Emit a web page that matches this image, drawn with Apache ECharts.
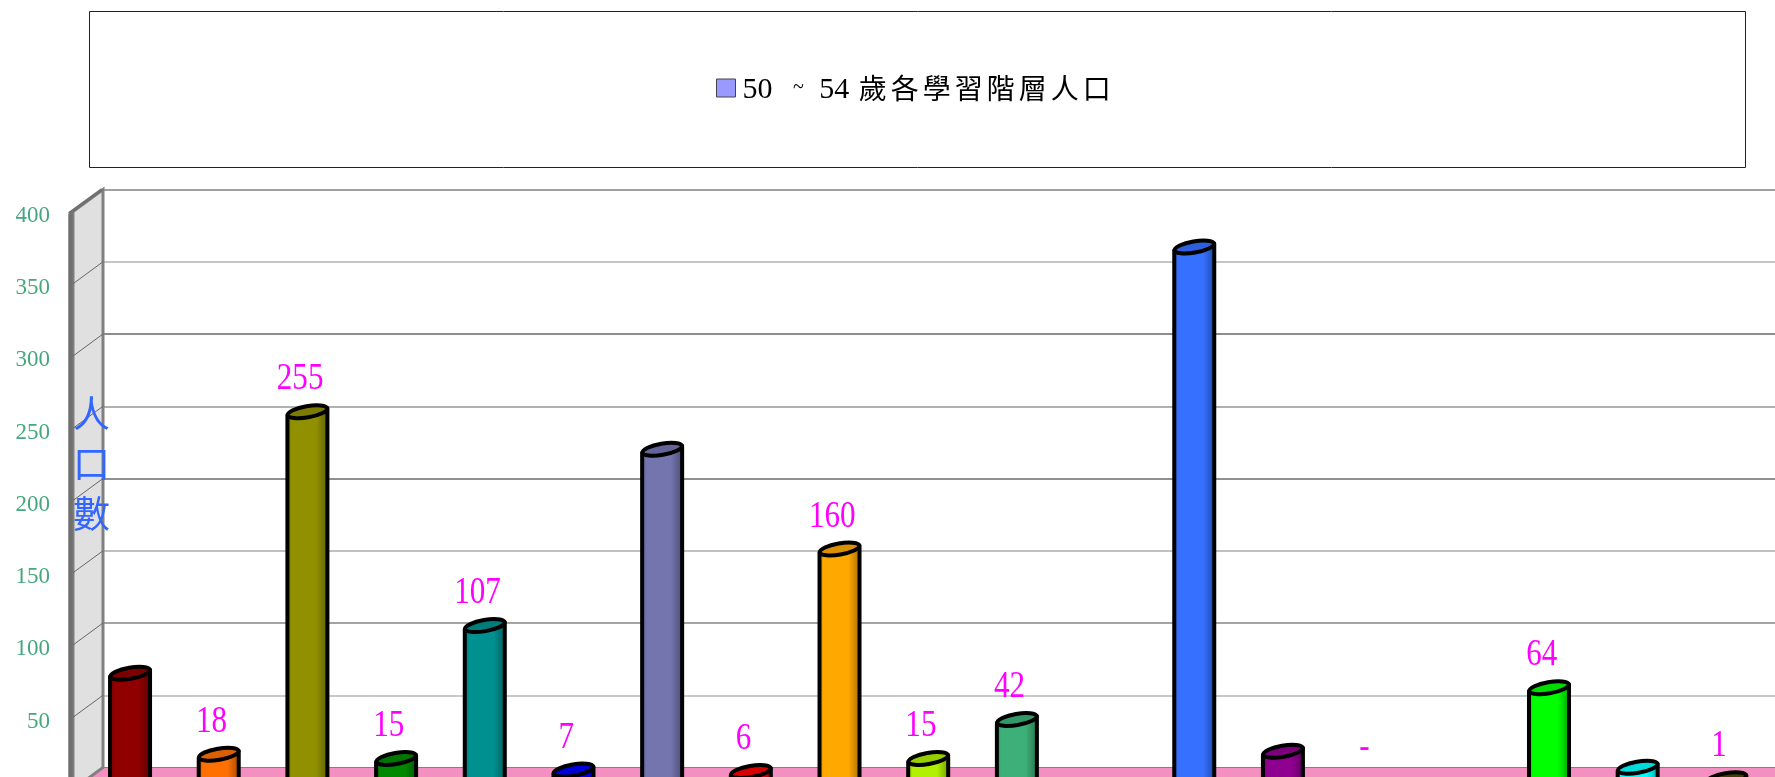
<!DOCTYPE html>
<html>
<head>
<meta charset="utf-8">
<style>html,body{margin:0;padding:0;background:#fff;overflow:hidden}#c{width:1775px;height:777px}</style>
<script src="https://cdn.jsdelivr.net/npm/echarts@6/dist/echarts.min.js"></script>
</head>
<body>
<div id="c"></div>
<script>
const seriesName = '50 ~ 54 歲各學習階層人口';
const axisTitle = '人\n口\n數';
const categories = ['1','2','3','4','5','6','7','8','9','10','11','12','13','14','15','16','17','18','19'];
const values = [74, 18, 255, 15, 107, 7, 229, 6, 160, 15, 42, 0, 369, 20, 0, 0, 64, 9, 1];
const valueLabels = ['', '18', '255', '15', '107', '7', '', '6', '160', '15', '42', '', '', '', '-', '', '64', '', '1'];
const barColors = ['#900000','#ff7000','#909000','#008800','#009090','#0000ff','#7474ae','#ff0000','#ffa800','#b0f000','#3cb078','#808080','#3670ff','#900090','#808080','#808080','#00ff00','#00ffff','#4a4a00'];
const yTicks = [0, 50, 100, 150, 200, 250, 300, 350, 400];
const gridColors = ['#808080','#c8c8c8','#a4a4a4','#c0c0c0','#909090','#b0b0b0','#8c8c8c','#c4c4c4','#a0a0a0'];

const WALL_DX = -30, WALL_DY = 22;
const BAR_DX = -17.3, BAR_DY = 12.7, BAR_RX = 20;
const SERIF = '"Liberation Serif","Noto Sans CJK TC",serif';

function shade(hex, f) {
  const n = parseInt(hex.slice(1), 16);
  const c = [(n >> 16) & 255, (n >> 8) & 255, n & 255].map(v => Math.round(v * f));
  return 'rgb(' + c.join(',') + ')';
}

function renderWall(params, api) {
  const cs = params.coordSys;
  const p = api.coord([0, yTicks[params.dataIndex]]);
  const left = cs.x, bottom = cs.y + cs.height, top = cs.y, right = cs.x + cs.width;
  const kids = [];
  if (params.dataIndex === 0) {
    kids.push({ type: 'polygon', shape: { points: [[left, bottom], [right + 40, bottom], [right + 40, bottom + WALL_DY], [left + WALL_DX, bottom + WALL_DY]] },
      style: { fill: '#f48fc1', stroke: '#808080', lineWidth: 1 } });
    kids.push({ type: 'polygon', shape: { points: [[left, top], [left, bottom], [left + WALL_DX, bottom + WALL_DY], [left + WALL_DX, top + WALL_DY]] },
      style: { fill: '#e0e0e0', stroke: '#808080', lineWidth: 3 } });
    kids.push({ type: 'line', shape: { x1: left + WALL_DX - 2.5, y1: top + WALL_DY + 2, x2: left + WALL_DX - 2.5, y2: bottom + WALL_DY },
      style: { stroke: '#707070', lineWidth: 4.5 } });
    kids.push({ type: 'line', shape: { x1: left + WALL_DX - 4, y1: top + WALL_DY + 2, x2: left - 1, y2: top },
      style: { stroke: '#707070', lineWidth: 3 } });
  } else if (params.dataIndex < yTicks.length - 1) {
    kids.push({ type: 'line', shape: { x1: left, y1: p[1], x2: left + WALL_DX, y2: p[1] + WALL_DY },
      style: { stroke: '#666666', lineWidth: 1 } });
  }
  return { type: 'group', children: kids };
}

function renderBar(params, api) {
  const i = params.dataIndex;
  const v = api.value(1);
  const t = api.coord([i, v]);
  const b = api.coord([i, 0]);
  const cx = t[0] + BAR_DX, cy = t[1] + BAR_DY, by = b[1] + BAR_DY;
  const col = barColors[i];
  const kids = [];
  if (v > 0) {
    kids.push({ type: 'polygon',
      shape: { points: [[cx - BAR_RX, cy + 3.5], [cx - BAR_RX, by], [cx + BAR_RX, by], [cx + BAR_RX, cy - 3.5]] },
      style: { stroke: '#000', lineWidth: 4, lineJoin: 'round',
        fill: { type: 'linear', x: 0, y: 0, x2: 1, y2: 0, colorStops: [
          { offset: 0, color: shade(col, 0.72) }, { offset: 0.14, color: col },
          { offset: 0.7, color: col }, { offset: 1, color: shade(col, 0.62) }] } } });
    kids.push({ type: 'ellipse', x: cx, y: cy, rotation: 0.17,
      shape: { cx: 0, cy: 0, rx: BAR_RX, ry: 5.6 },
      style: { fill: shade(col, 0.86), stroke: '#000', lineWidth: 4 } });
  }
  if (valueLabels[i]) {
    kids.push({ type: 'text', x: t[0] + BAR_DX - 7.3, y: t[1] - 19.5, scaleX: 0.84,
      style: { text: valueLabels[i], fontFamily: SERIF, fontSize: 37, fill: '#ff00ff', align: 'center', verticalAlign: 'middle' } });
  }
  return { type: 'group', children: kids };
}

const chart = echarts.init(document.getElementById('c'), null, { renderer: 'canvas' });
chart.setOption({
  animation: false,
  backgroundColor: '#ffffff',
  title: { text: axisTitle, left: 73, top: 389, z: 10, padding: 0,
    textStyle: { fontFamily: '"Noto Sans CJK TC"', fontWeight: 'normal', fontSize: 37, lineHeight: 50, color: '#3366ff' } },
  graphic: [{ type: 'rect', shape: { x: 89.5, y: 11.5, width: 1656, height: 156 }, style: { fill: '#fff', stroke: '#222', lineWidth: 1 }, z: 0, silent: true }],
  legend: { left: 716, top: 74, padding: 0, selectedMode: false, itemWidth: 19, itemHeight: 18, itemGap: 0, z: 5,
    data: [{ name: seriesName, icon: 'rect', itemStyle: { color: '#9999ff', borderColor: '#444', borderWidth: 1 } }],
    formatter: function () {
      return '{a|50 }{s|~}{b| 54 }' + Array.from('歲各學習階層人口').map(ch => '{c|' + ch + '}').join('');
    },
    textStyle: { fontFamily: SERIF, fontSize: 28, color: '#000',
      rich: {
        a: { fontFamily: SERIF, fontSize: 30, color: '#000', padding: [4, 0, 0, 2] },
        b: { fontFamily: SERIF, fontSize: 30, color: '#000', padding: [4, 2, 0, 0] },
        s: { fontFamily: SERIF, fontSize: 20, color: '#000', padding: [0, 8, 0, 13] },
        c: { fontFamily: '"Noto Sans CJK TC"', fontSize: 28, color: '#000', padding: [0, 4, 0, 0] }
      } } },
  grid: [
    { left: 103, top: 189.5, width: 1685, height: 578, outerBoundsMode: 'none' },
    { left: 73, top: 215.8, width: 100, height: 578, outerBoundsMode: 'none' }
  ],
  xAxis: [
    { type: 'category', gridIndex: 0, data: categories, show: false },
    { type: 'category', gridIndex: 1, data: categories, show: false }
  ],
  yAxis: [
    { type: 'value', gridIndex: 0, min: 0, max: 400, interval: 50, axisLine: { show: false }, axisTick: { show: false }, axisLabel: { show: false },
      splitLine: { show: true, lineStyle: { color: gridColors, width: 2 } } },
    { type: 'value', gridIndex: 1, min: 0, max: 400, interval: 50, axisLine: { show: false }, axisTick: { show: false }, splitLine: { show: false },
      axisLabel: { margin: 23, fontFamily: SERIF, fontSize: 23, color: '#45a87c' } }
  ],
  series: [
    { type: 'custom', name: 'wall', xAxisIndex: 0, yAxisIndex: 0, silent: true, clip: false, z: 1,
      data: yTicks.map(t => [0, t]), encode: { x: 0, y: 1 }, renderItem: renderWall },
    { type: 'custom', name: seriesName, xAxisIndex: 0, yAxisIndex: 0, clip: false, z: 3,
      data: values.map((v, i) => [i, v]), encode: { x: 0, y: 1 }, renderItem: renderBar }
  ]
});
</script>
</body>
</html>
